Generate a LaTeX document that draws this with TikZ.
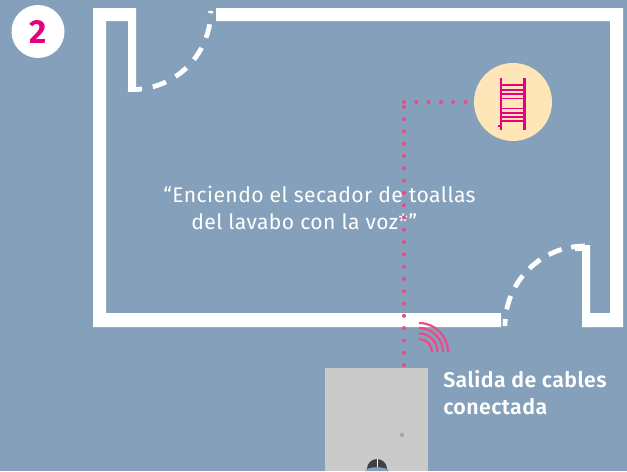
\documentclass[tikz,border=0pt]{standalone}
\usepackage{fontspec}
\setmainfont{Fira Sans}
\newfontfamily\lightfont[LetterSpace=2]{Fira Sans}
\newfontfamily\boldfont[LetterSpace=2]{Fira Sans SemiBold}
\definecolor{wallbg}{HTML}{85A0BA}
\definecolor{pinkdot}{HTML}{EC4A84}
\definecolor{pinkicon}{HTML}{E6007E}
\definecolor{heaterbg}{HTML}{FFE6B8}
\definecolor{platebg}{HTML}{CACACA}
\begin{document}
\begin{tikzpicture}[x=0.75pt, y=-0.75pt,
        wall/.style = {fill=white, draw=none},
        door/.style = {draw=white, line width=3.6pt, dash pattern=on 10.5pt off 8.3pt},
        dots/.style = {draw=pinkdot, line width=3pt, line cap=round, dash pattern=on 0pt off 9.22pt},
        wave/.style = {draw=pinkdot, line width=1.6pt},
        rung/.style = {draw=pinkicon, line width=1.1pt},
        quote/.style = {text=white, anchor=base west, inner sep=0pt, font=\lightfont\fontsize{15.85}{18}\selectfont},
        label/.style = {text=white, anchor=base west, inner sep=0pt, font=\boldfont\fontsize{16}{20.25}\selectfont, align=left}]
        \useasboundingbox (0,0) rectangle (627,471);
        \fill[wallbg] (0,0) rectangle (627,471);
        % walls
        \fill[wall] (93,8) -- (136,8) -- (136,90) -- (128,90) -- (128,21) -- (106,21) -- (106,313) -- (501,313) -- (501,327) -- (93,327) -- cycle;
        \fill[wall] (216,8) -- (623,8) -- (623,327) -- (582,327) -- (582,313) -- (610,313) -- (610,21) -- (216,21) -- cycle;
        \fill[wall] (575,245) -- (590,245) -- (590,327) -- (582,327) -- (582,251) -- (575,251) -- cycle;
        % doors
        \draw[door] (128,89.5) arc[start angle=-93, end angle=0, radius=59pt];
        \draw[door, dash pattern=on 10.5pt off 7.3pt] (585,246) arc[start angle=90, end angle=180, radius=60pt];
        % nodes
        \node[circle, fill=white, minimum size=39.75pt, inner sep=0pt] (badge) at (38,31.5) {\textcolor{pinkicon}{\fontsize{25}{25}\selectfont\bfseries 2}};
        \node[circle, fill=heaterbg, minimum size=58.5pt, inner sep=0pt] (heater) at (513,102) {};
        \node[rectangle, fill=platebg, minimum width=77.25pt, minimum height=77.25pt, inner sep=0pt, anchor=north west] (plate) at (325,368) {};
        \coordinate (corner) at (404,102);
        \coordinate (riser) at (404,368);
        % heater
        \foreach \px in {501,524.5}
            \draw[draw=pinkicon, line width=1.6pt] (\px,78) -- (\px,130);
        \foreach \py in {85,90,94,98.5,108.5,113,117,121}
            \draw[rung] (501,\py) -- (524.5,\py);
        \fill[pinkicon] (498,125) rectangle (501,127);
        % plate
        \fill[gray!70] (402,435) circle[radius=2.2];
        \fill[black!75] (367,469) arc[start angle=180, end angle=0, radius=7.5pt] -- cycle;
        \draw[white, line width=0.5pt] (377,459) -- (377,469);
        \fill[wallbg] (365,471) .. controls (367,466) and (387,466) .. (389,471) -- cycle;
        % text
        \node[quote] (line1) at (163,202) {“Enciendo el secador de toallas};
        \node[quote] (line2) at (191,229) {del lavabo con la voz*”};
        \node[label] (cables) at (443,414) {Salida de cables\\conectada};
        % dotted line
        \draw[dots] (riser) ++(0,-3) -- (corner);
        \draw[dots] (corner) -- (heater.west);
        % signal
        \foreach \r in {9.75,13.9,18,21.75}
            \draw[wave] (419,352) ++(0,\r pt) arc[start angle=90, end angle=0, radius=\r pt];
\end{tikzpicture}
\end{document}
